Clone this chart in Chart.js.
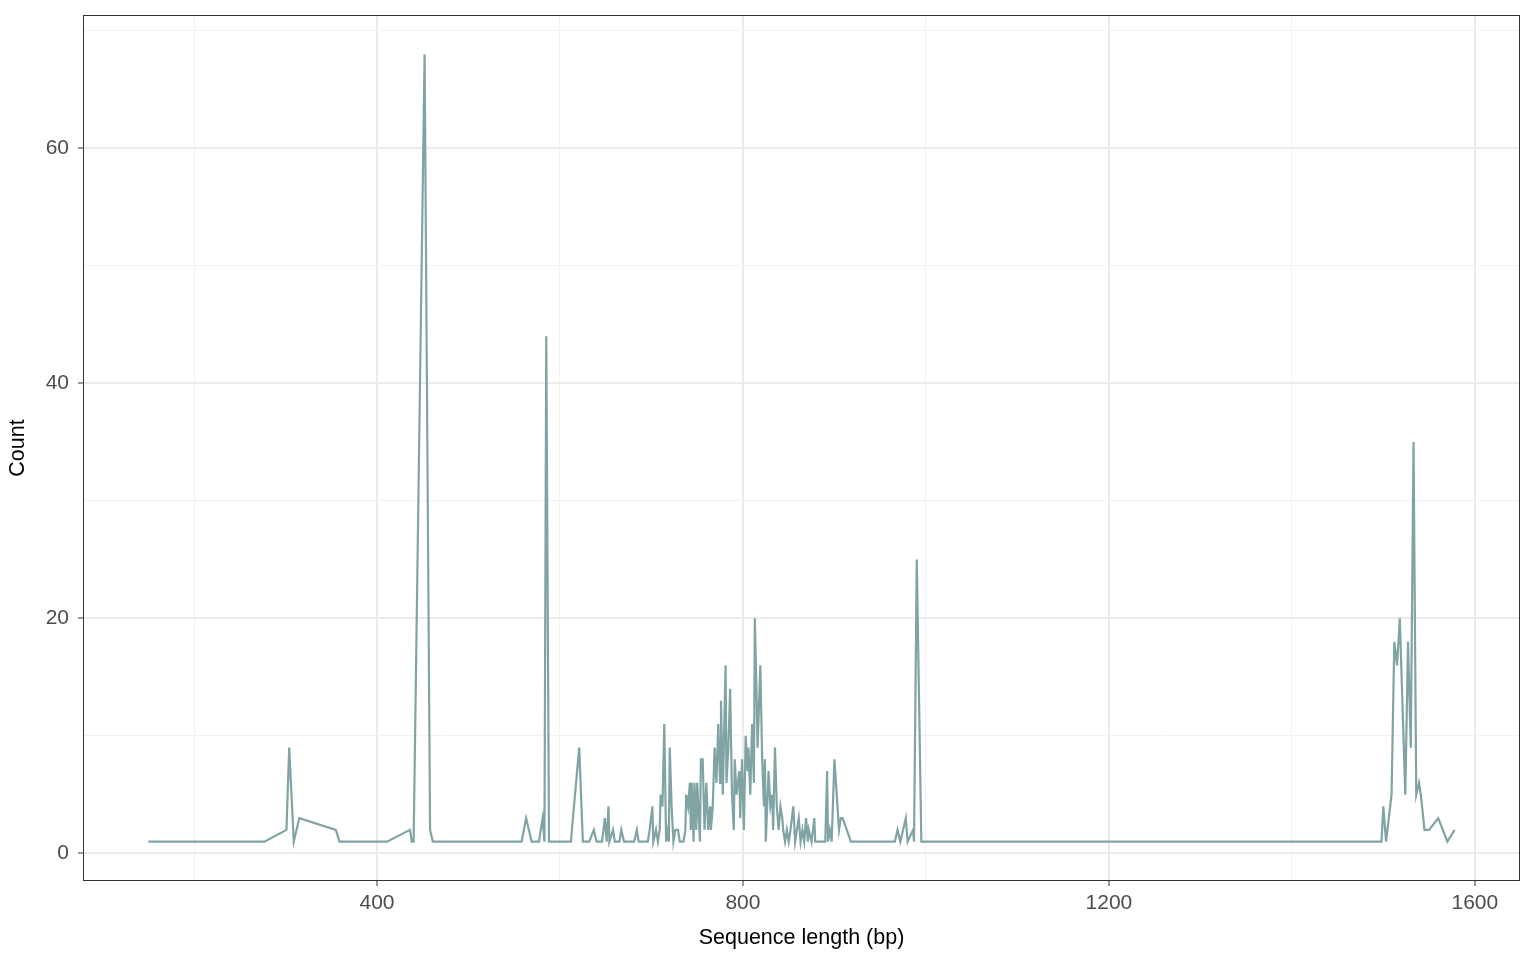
<!DOCTYPE html>
<html>
<head>
<meta charset="utf-8">
<script src="https://cdn.jsdelivr.net/npm/chart.js@4/dist/chart.umd.min.js"></script>
<style>
html,body{margin:0;padding:0;background:#fff;}
#wrap{width:1536px;height:960px;position:relative;}
</style>
</head>
<body>
<div id="wrap"><canvas id="c" width="1536" height="960"></canvas></div>
<script>
const lengths = [150,277,301,304,309,315,355,359,411,436,438,440,452,458,461,558,563,569,577,581,583,585,588,612,613,621,625,632,637,640,646,649,651,653,654,658,660,665,667,670,681,684,686,696,698,701,702,705,707,709,710,712,714,716,717,719,720,722,724,726,729,731,735,737,738,740,742,743,744,746,747,749,750,753,754,756,758,760,762,764,765,767,769,771,773,775,776,778,781,782,784,786,788,790,791,793,796,797,799,801,803,805,806,808,810,812,813,815,816,819,821,823,824,825,828,830,832,833,835,837,839,841,843,844,846,848,850,852,855,857,859,861,863,865,867,869,871,872,875,878,879,890,892,893,895,897,900,905,907,909,918,966,969,972,978,980,986,987,990,995,1498,1500,1503,1509,1512,1515,1518,1524,1527,1530,1533,1536,1539,1541,1545,1550,1560,1570,1578];
const counts  = [1,1,2,9,1,3,2,1,1,2,1,1,68,2,1,1,3,1,1,3,1,44,1,1,2,9,1,1,2,1,1,3,1,4,1,2,1,1,2,1,1,2,1,1,2,4,1,2,1,2,5,4,11,1,2,1,9,4,1,2,2,1,1,2,5,4,6,2,6,1,6,2,6,1,8,8,2,6,2,4,2,4,9,6,11,6,13,5,16,6,9,14,5,2,8,5,7,3,8,2,10,7,9,5,11,6,20,13,9,16,8,4,8,1,7,4,5,2,9,4,2,4,3,2,1,2,1,2,4,1,2,3,1,2,1,3,1,2,1,3,1,1,7,1,2,1,8,2,3,3,1,1,2,1,3,1,2,1,25,1,1,4,1,5,18,16,20,5,18,9,35,5,6,5,2,2,3,1,2];
const xGridTicks = [200, 400, 600, 800, 1000, 1200, 1400, 1600];
const xMajorTicks = [400, 800, 1200, 1600];
const yGridTicks = [0, 10, 20, 30, 40, 50, 60, 70];
const yMajorTicks = [0, 20, 40, 60];
const xTitle = "Sequence length (bp)";
const yTitle = "Count";

const points = lengths.map((l, i) => ({x: l, y: counts[i]}));
const xLo = Math.min(...lengths), xHi = Math.max(...lengths);
const yLo = Math.min(...counts), yHi = Math.max(...counts);
const xMin = xLo - (xHi - xLo) * 0.05, xMax = xHi + (xHi - xLo) * 0.05;
const yMin = yLo - (yHi - yLo) * 0.05, yMax = yHi + (yHi - yLo) * 0.05;

const borderPlugin = {
  id: 'panelBorder',
  afterDraw(chart) {
    const a = chart.chartArea, ctx = chart.ctx;
    ctx.save();
    ctx.strokeStyle = '#333333';
    ctx.lineWidth = 1;
    ctx.strokeRect(Math.round(a.left) + 0.5, Math.round(a.top) + 0.5, Math.round(a.right - a.left) - 1, Math.round(a.bottom - a.top) - 1);
    ctx.restore();
  }
};

const isMajor = (list, c) => c.tick && list.includes(c.tick.value);
const font = "'Liberation Sans', Arial, Helvetica, sans-serif";
new Chart(document.getElementById('c'), {
  type: 'line',
  data: { datasets: [{ data: points, borderColor: '#80A4A3', borderWidth: 2.2, pointRadius: 0, tension: 0, fill: false }] },
  options: {
    responsive: false,
    animation: false,
    layout: { padding: { left: 0, right: 16, top: 15, bottom: 0 } },
    plugins: { legend: { display: false }, tooltip: { enabled: false } },
    scales: {
      x: {
        type: 'linear', min: xMin, max: xMax,
        afterBuildTicks: s => { s.ticks = xGridTicks.map(v => ({ value: v })); },
        afterFit: s => { s.height = 79; s.paddingLeft = 0; s.paddingRight = 0; },
        border: { display: false },
        grid: {
          color: c => (isMajor(xMajorTicks, c) ? '#EBEBEB' : '#F2F2F2'),
          lineWidth: c => (isMajor(xMajorTicks, c) ? 2 : 1),
          tickColor: c => (isMajor(xMajorTicks, c) ? '#333333' : 'rgba(0,0,0,0)'),
          tickLength: 5, tickWidth: 1
        },
        ticks: {
          autoSkip: false, maxRotation: 0,
          callback: v => (xMajorTicks.includes(v) ? String(v) : ''),
          color: '#4D4D4D', font: { family: font, size: 21 }, padding: 5
        },
        title: { display: true, text: xTitle, color: '#000', font: { family: font, size: 21.5 }, padding: { top: 4, bottom: 9 } }
      },
      y: {
        type: 'linear', min: yMin, max: yMax,
        afterBuildTicks: s => { s.ticks = yGridTicks.map(v => ({ value: v })); },
        afterFit: s => { s.width = 83; s.paddingTop = 0; s.paddingBottom = 0; },
        border: { display: false },
        grid: {
          color: c => (isMajor(yMajorTicks, c) ? '#EBEBEB' : '#F2F2F2'),
          lineWidth: c => (isMajor(yMajorTicks, c) ? 2 : 1),
          tickColor: c => (isMajor(yMajorTicks, c) ? '#333333' : 'rgba(0,0,0,0)'),
          tickLength: 5, tickWidth: 1
        },
        ticks: {
          autoSkip: false,
          callback: v => (yMajorTicks.includes(v) ? String(v) : ''),
          color: '#4D4D4D', font: { family: font, size: 21 }, padding: 9
        },
        title: { display: true, text: yTitle, color: '#000', font: { family: font, size: 21.5 }, padding: { top: 5, bottom: 4 } }
      }
    }
  },
  plugins: [borderPlugin]
});
</script>
</body>
</html>
